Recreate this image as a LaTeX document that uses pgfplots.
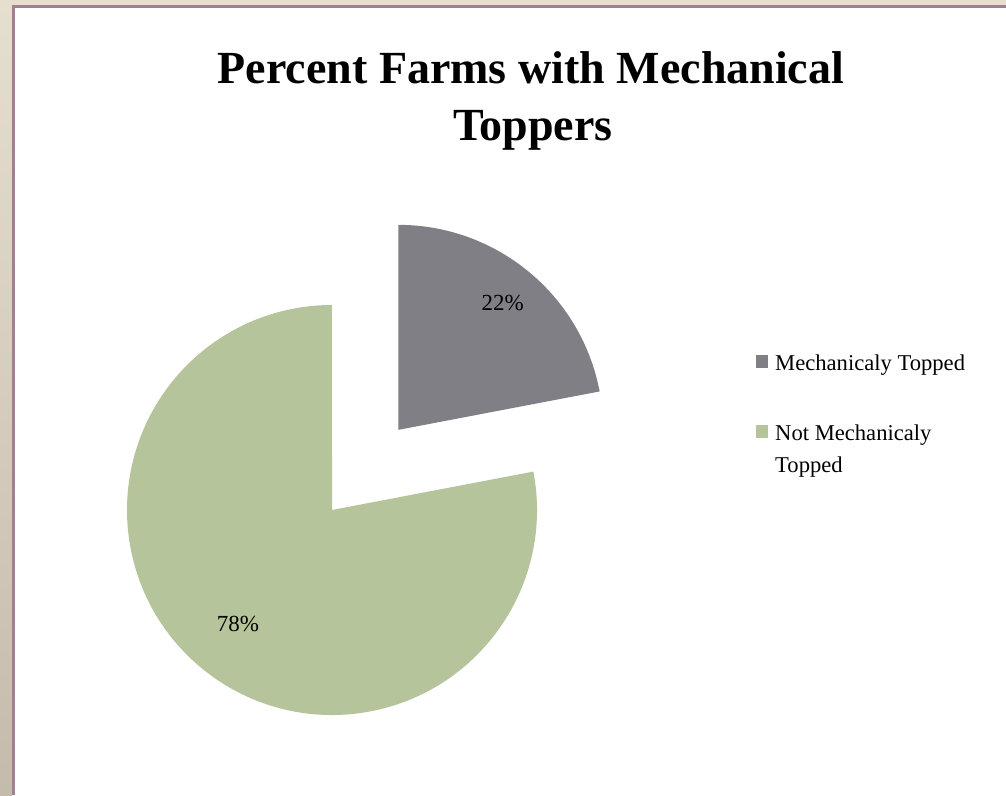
\documentclass[border=0pt]{standalone}
\usepackage{pgfplots}
\pgfplotsset{compat=1.18}
\usepackage{pgfplotstable}
\usepackage{fontspec}
\setmainfont{Liberation Serif}
\definecolor{bgtop}{RGB}{231,223,205}
\definecolor{bgbot}{RGB}{196,187,172}
\definecolor{mauve}{RGB}{162,128,146}
\definecolor{sgray}{RGB}{128,127,134}
\definecolor{sgreen}{RGB}{182,196,155}

\pgfplotstableread{
label value
Mech 22
NotMech 78
}\pietable

\begin{document}
\begin{tikzpicture}
\pgfplotstablegetelem{0}{value}\of\pietable \let\va\pgfplotsretval
\pgfplotstablegetelem{1}{value}\of\pietable \let\vb\pgfplotsretval
\begin{axis}[
  x=1pt, y=1pt, scale only axis,
  xmin=0, xmax=1006, ymin=0, ymax=795,
  hide axis, clip=false,
]
% background frame
\fill[bgtop] (axis cs:0,0) rectangle (axis cs:1006,795);
\shade[top color=bgtop, bottom color=bgbot] (axis cs:0,0) rectangle (axis cs:12,795);
\fill[mauve] (axis cs:12,0) rectangle (axis cs:1006,790);
\fill[white] (axis cs:15,0) rectangle (axis cs:1006,787);

% pie
\pgfmathsetmacro{\R}{205}
\pgfmathsetmacro{\aA}{\va/100*360}
\pgfmathsetmacro{\endA}{90-\aA}
\pgfmathsetmacro{\midA}{90-\aA/2}
\pgfmathsetmacro{\midB}{\endA-(\vb/100*360)/2}
\pgfmathsetmacro{\cx}{332}
\pgfmathsetmacro{\cy}{285}
\pgfmathsetmacro{\ex}{104}
\pgfmathsetmacro{\gx}{\cx+\ex*cos(\midA)}
\pgfmathsetmacro{\gy}{\cy+\ex*sin(\midA)}
\pgfmathsetmacro{\endB}{\endA-\vb/100*360}

\fill[sgreen] (axis cs:\cx,\cy) -- (axis cs:{\cx+\R*cos(\endA)},{\cy+\R*sin(\endA)})
   arc[start angle=\endA, end angle=\endB, radius=\R pt] -- cycle;
\fill[sgray] (axis cs:\gx,\gy) -- (axis cs:\gx,{\gy+\R})
   arc[start angle=90, end angle=\endA, radius=\R pt] -- cycle;

\node[font=\fontsize{23}{27}\selectfont] at (axis cs:{\gx+0.8*\R*cos(\midA)},{\gy+0.8*\R*sin(\midA)}) {\pgfmathprintnumber[fixed,precision=0,assume math mode=true]{\va}\%};
\node[font=\fontsize{23}{27}\selectfont] at (axis cs:{\cx+0.72*\R*cos(\midB)},{\cy+0.72*\R*sin(\midB)}) {\pgfmathprintnumber[fixed,precision=0,assume math mode=true]{\vb}\%};

% title
\node[anchor=base, font=\bfseries\fontsize{46}{54}\selectfont] at (axis cs:531,711) {Percent Farms with Mechanical};
\node[anchor=base, font=\bfseries\fontsize{46}{54}\selectfont] at (axis cs:533,654) {Toppers};

% legend
\fill[sgray] (axis cs:756,427) rectangle (axis cs:768,440);
\node[anchor=base west, font=\fontsize{22.6}{26}\selectfont, inner sep=0pt] at (axis cs:775,424) {Mechanicaly Topped};
\fill[sgreen] (axis cs:756,357) rectangle (axis cs:768,370);
\node[anchor=base west, font=\fontsize{22.6}{26}\selectfont, inner sep=0pt] at (axis cs:775,354) {Not Mechanicaly};
\node[anchor=base west, font=\fontsize{22.6}{26}\selectfont, inner sep=0pt] at (axis cs:775,322) {Topped};
\end{axis}
\end{tikzpicture}
\end{document}
